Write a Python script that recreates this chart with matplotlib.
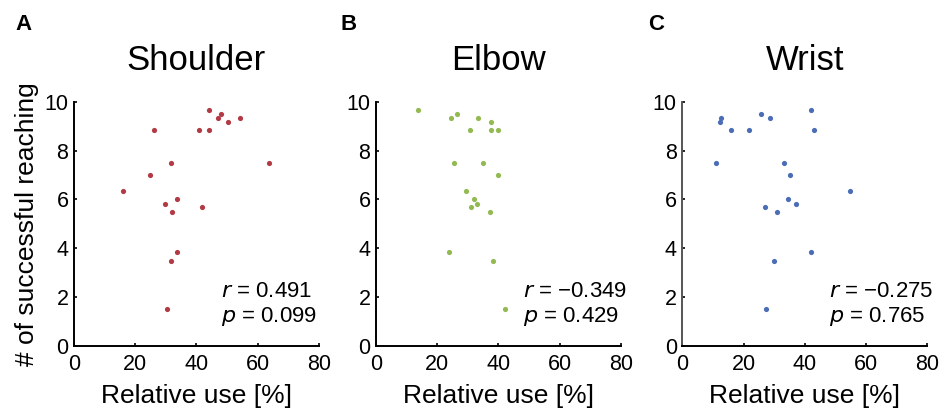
import matplotlib.pyplot as plt

plt.rcParams['font.family'] = ['Liberation Sans', 'DejaVu Sans']

titles = ['Shoulder', 'Elbow', 'Wrist']
letters = ['A', 'B', 'C']
colors = ['#b23a44', '#93ba52', '#4a6db5']
stats = [('0.491', '0.099'), ('\u22120.349', '0.429'), ('\u22120.275', '0.765')]

shoulder_x = [15.9, 26.3, 24.8, 31.8, 29.8, 33.6, 32.1, 33.8, 31.6, 30.4,
              40.7, 44.1, 42.0, 44.2, 47.1, 48.0, 50.2, 54.1, 63.7]
shoulder_y = [6.33, 8.83, 7.0, 7.5, 5.83, 6.0, 5.5, 3.83, 3.5, 1.5,
              8.83, 8.83, 5.67, 9.67, 9.33, 9.5, 9.17, 9.33, 7.5]

elbow_x = [13.6, 24.5, 26.6, 33.2, 37.6, 30.8, 37.6, 40.0, 25.4, 35.1,
           40.0, 29.5, 31.9, 33.1, 31.1, 37.2, 24.0, 38.4, 42.3]
elbow_y = [9.67, 9.33, 9.5, 9.33, 9.17, 8.83, 8.83, 8.83, 7.5, 7.5,
           7.0, 6.33, 6.0, 5.83, 5.67, 5.5, 3.83, 3.5, 1.5]

wrist_x = [11.0, 12.3, 12.8, 16.0, 21.8, 25.7, 28.5, 42.2, 43.0, 33.2,
           35.3, 34.6, 37.1, 27.1, 30.9, 54.7, 42.0, 30.1, 27.3]
wrist_y = [7.5, 9.17, 9.33, 8.83, 8.83, 9.5, 9.33, 9.67, 8.83, 7.5,
           7.0, 6.0, 5.83, 5.67, 5.5, 6.33, 3.83, 3.5, 1.5]

xs = [shoulder_x, elbow_x, wrist_x]
ys = [shoulder_y, elbow_y, wrist_y]

fig = plt.figure(figsize=(9.47, 4.11), dpi=100)
lefts = [0.0781, 0.397, 0.7205]

for i in range(3):
    ax = fig.add_axes([lefts[i], 0.158, 0.2585, 0.5946])
    ax.scatter(xs[i], ys[i], s=14, color=colors[i], linewidths=0, zorder=3)
    ax.set_xlim(0, 80)
    ax.set_ylim(0, 10)
    ax.set_xticks([0, 20, 40, 60, 80])
    ax.set_yticks([0, 2, 4, 6, 8, 10])
    ax.spines['top'].set_visible(False)
    ax.spines['right'].set_visible(False)
    for s in ['left', 'bottom']:
        ax.spines[s].set_linewidth(1.4)
    if i == 2:
        ax.spines['left'].set_color('#555555')
    ax.tick_params(direction='in', length=2.5, width=1.2, labelsize=15.5)
    ax.tick_params(axis='x', pad=6)
    ax.tick_params(axis='y', pad=4)
    ax.set_xlabel('Relative use [%]', fontsize=19, labelpad=6)
    if i == 0:
        ax.set_ylabel('# of successful reaching', fontsize=19, labelpad=4)
    ax.text(0.5, 1.17, titles[i], transform=ax.transAxes, ha='center',
            va='center', fontsize=25)
    ax.text(48, 2.25, '$r$ = ' + stats[i][0], fontsize=16, va='center',
            ha='left')
    ax.text(48, 1.2, '$p$ = ' + stats[i][1], fontsize=16, va='center',
            ha='left')

fig.text(15 / 947, 1 - 24 / 411, 'A', fontsize=16, fontweight='bold', va='center')
fig.text(340 / 947, 1 - 24 / 411, 'B', fontsize=16, fontweight='bold', va='center')
fig.text(648 / 947, 1 - 24 / 411, 'C', fontsize=16, fontweight='bold', va='center')

plt.savefig('out.png', dpi=100)
